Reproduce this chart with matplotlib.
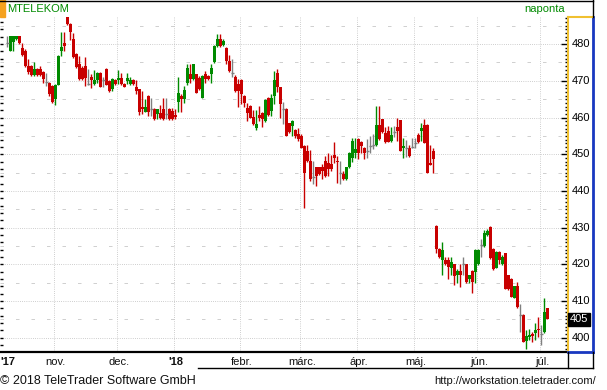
import matplotlib
matplotlib.use("Agg")
import matplotlib.pyplot as plt
from matplotlib.lines import Line2D
from matplotlib.patches import Rectangle

plt.rcParams['font.family'] = ['Liberation Sans', 'DejaVu Sans']

# ---- data (daily OHLC, Oct 2017 - Jul 2018) ----
opens = [480.3, 478.2, 480.5, 481.5, 482.3, 479.0, 478.2, 474.1, 474.0, 471.5,
         473.2, 473.2, 472.3, 469.6, 469.5, 468.5, 465.0, 469.0, 478.2, 480.3,
         487.3, 485.5, 481.4, 477.3, 474.5, 473.6, 474.1, 469.2, 471.0, 469.1,
         470.2, 472.1, 470.2, 473.2, 470.0, 467.8, 470.2, 470.2, 470.8, 469.1,
         470.0, 469.1, 470.2, 468.4, 467.7, 463.0, 461.6, 466.0, 462.2, 462.2,
         461.0, 461.2, 462.2, 461.0, 462.2, 461.8, 460.8, 464.3, 466.0, 465.0,
         469.5, 471.8, 470.4, 471.8, 470.9, 465.4, 471.8, 471.3, 471.8, 475.0,
         479.5, 481.4, 479.8, 479.0, 475.5, 472.1, 471.0, 469.2, 470.3, 466.0,
         462.5, 463.2, 460.2, 457.1, 460.6, 461.2, 459.0, 465.2, 461.8, 466.0,
         472.1, 468.2, 462.3, 462.3, 458.4, 457.6, 456.5, 455.4, 455.1, 452.3,
         450.8, 448.2, 443.8, 446.4, 446.4, 446.4, 448.2, 447.7, 447.3, 449.8,
         448.2, 445.0, 444.7, 443.3, 446.4, 449.1, 450.4, 454.1, 453.4, 451.8,
         451.0, 452.2, 452.6, 452.4, 458.1, 459.5, 455.9, 456.3, 453.6, 456.1,
         457.3, 459.2, 451.7, 451.7, 451.7, 452.0, 453.0, 455.2, 456.4, 458.1,
         458.0, 447.7, 451.0, 430.4, 424.3, 421.3, 421.3, 421.3, 419.1, 420.0,
         417.0, 418.2, 420.0, 420.0, 416.1, 418.2, 418.0, 420.0, 425.2, 425.0,
         427.9, 430.2, 424.3, 419.1, 423.4, 420.2, 423.0, 417.0, 416.1, 410.9,
         414.0, 406.2, 406.2, 399.2, 400.3, 400.9, 401.2, 402.5, 400.9, 401.6,
         408.0]
highs = [482.3, 482.3, 482.3, 482.3, 482.3, 480.3, 478.6, 476.0, 474.3, 475.0,
         473.5, 474.1, 472.6, 472.2, 469.8, 468.8, 469.2, 477.0, 483.2, 483.2,
         487.5, 485.8, 483.0, 477.6, 476.8, 474.0, 476.5, 473.2, 472.0, 473.0,
         472.3, 472.3, 471.0, 473.4, 470.3, 470.7, 470.5, 473.0, 472.1, 469.4,
         472.1, 471.0, 470.4, 470.2, 467.9, 467.2, 465.0, 466.2, 465.2, 462.5,
         462.4, 463.5, 465.2, 465.2, 462.5, 462.5, 462.2, 471.0, 466.3, 468.5,
         474.5, 474.5, 474.7, 472.0, 471.2, 471.5, 472.8, 471.6, 474.5, 479.8,
         482.7, 482.7, 481.5, 479.3, 477.0, 476.0, 471.6, 470.5, 470.5, 466.2,
         464.0, 463.5, 462.0, 462.0, 463.2, 461.4, 465.0, 465.5, 466.4, 472.8,
         473.3, 468.4, 464.3, 462.5, 458.6, 459.2, 456.8, 457.2, 455.4, 452.6,
         452.5, 451.1, 448.2, 446.6, 446.6, 447.3, 449.6, 450.2, 449.8, 453.3,
         449.6, 448.2, 445.5, 446.6, 450.5, 454.5, 454.5, 454.3, 453.6, 452.0,
         454.1, 455.0, 455.4, 463.1, 463.1, 459.7, 457.5, 457.7, 457.5, 457.8,
         460.0, 459.4, 454.5, 454.0, 452.5, 454.5, 454.5, 455.8, 458.4, 459.5,
         458.3, 452.5, 451.6, 430.6, 424.5, 426.0, 422.0, 422.0, 422.0, 420.2,
         418.8, 420.0, 422.0, 420.2, 417.2, 418.4, 424.2, 424.2, 427.0, 429.3,
         429.6, 430.4, 424.5, 423.6, 423.6, 422.5, 423.2, 417.2, 416.3, 414.2,
         415.2, 409.1, 406.4, 402.1, 402.5, 401.5, 403.9, 405.7, 403.5, 410.9,
         408.2]
lows = [479.2, 478.2, 478.2, 481.2, 480.0, 476.8, 473.8, 472.0, 471.2, 471.3,
        471.2, 471.2, 469.5, 468.5, 466.0, 464.0, 463.5, 468.8, 476.8, 478.2,
        485.3, 481.0, 476.2, 473.5, 470.2, 470.2, 468.5, 468.8, 468.0, 469.0,
        469.3, 468.2, 468.4, 468.8, 467.0, 467.2, 468.9, 469.1, 468.9, 468.2,
        469.1, 468.9, 468.9, 466.3, 460.8, 460.9, 461.4, 460.5, 460.4, 459.3,
        459.5, 459.6, 459.3, 459.5, 459.3, 459.3, 459.5, 461.5, 461.5, 464.0,
        469.0, 469.5, 470.2, 466.6, 467.5, 465.2, 469.3, 470.1, 469.5, 474.8,
        479.3, 479.3, 479.5, 474.5, 472.5, 471.0, 467.0, 463.0, 463.8, 463.0,
        459.0, 459.8, 458.0, 456.5, 459.0, 457.5, 458.8, 460.4, 460.3, 463.6,
        466.9, 460.0, 458.3, 454.9, 455.8, 455.0, 454.4, 453.6, 451.6, 435.4,
        447.9, 442.8, 442.0, 441.4, 444.3, 443.3, 443.9, 444.1, 445.5, 447.6,
        442.2, 441.8, 443.0, 443.1, 446.2, 448.0, 449.1, 448.7, 450.2, 448.7,
        449.1, 450.4, 451.3, 452.2, 453.9, 455.8, 453.1, 453.2, 453.2, 454.8,
        453.5, 450.8, 449.0, 449.2, 449.2, 451.8, 451.8, 453.1, 453.5, 453.0,
        444.8, 447.0, 445.0, 423.0, 421.8, 417.0, 419.8, 416.1, 417.0, 414.3,
        414.8, 413.8, 417.0, 415.0, 415.0, 412.2, 414.8, 419.8, 422.0, 424.8,
        427.7, 421.4, 418.4, 418.9, 420.0, 419.7, 413.2, 413.0, 411.0, 410.7,
        408.2, 401.6, 398.7, 396.8, 399.3, 398.8, 399.5, 400.3, 398.0, 401.4,
        405.0]
closes = [480.3, 482.3, 482.3, 482.3, 480.3, 477.0, 474.1, 472.3, 471.5, 473.2,
          471.5, 471.5, 470.5, 469.6, 466.5, 464.2, 469.0, 476.8, 479.1, 479.5,
          485.5, 483.2, 476.4, 473.7, 470.4, 470.4, 470.9, 469.2, 470.2, 470.2,
          472.1, 468.4, 470.2, 469.0, 467.3, 470.5, 469.1, 470.8, 469.1, 468.4,
          470.8, 470.2, 469.1, 467.2, 461.6, 462.2, 463.0, 461.6, 462.2, 459.5,
          462.2, 459.8, 459.5, 461.0, 459.5, 459.6, 460.2, 466.8, 465.0, 467.5,
          473.6, 470.4, 474.5, 466.8, 467.7, 471.3, 470.4, 470.4, 473.6, 479.6,
          481.4, 479.5, 480.8, 475.5, 472.8, 472.1, 467.3, 467.3, 466.4, 464.0,
          461.2, 460.0, 458.2, 458.2, 460.0, 459.5, 464.8, 460.6, 465.2, 470.3,
          468.2, 463.6, 462.3, 455.1, 456.0, 459.0, 455.1, 454.1, 451.8, 445.0,
          448.2, 443.3, 443.8, 444.1, 444.5, 445.5, 444.1, 445.9, 445.9, 449.1,
          447.9, 445.0, 443.2, 446.4, 450.3, 453.6, 451.3, 450.4, 452.3, 450.4,
          451.0, 452.2, 452.6, 458.1, 454.1, 456.0, 453.3, 453.4, 455.2, 456.1,
          456.2, 451.0, 452.3, 451.7, 449.6, 452.0, 453.0, 453.4, 457.2, 453.1,
          445.0, 447.2, 448.6, 424.3, 422.0, 424.0, 420.0, 419.3, 420.6, 416.8,
          418.2, 417.0, 420.0, 415.2, 417.0, 415.2, 424.0, 424.0, 425.2, 428.4,
          429.1, 421.6, 418.6, 423.4, 421.1, 422.0, 413.4, 413.4, 411.2, 414.0,
          408.4, 406.2, 398.9, 400.4, 400.7, 400.5, 402.1, 402.1, 400.9, 407.0,
          405.2]

month_labels = ["'17", "nov.", "dec.", "'18", "febr.", "márc.", "ápr.", "máj.", "jún.", "júl."]
month_starts = [0, 16, 37, 56, 78, 98, 117, 136, 157, 178]
price_ticks = [400, 410, 420, 430, 440, 450, 460, 470, 480]
half_ticks = [405, 415, 425, 435, 445, 455, 465, 475, 485]
title_text = "MTELEKOM"
period_text = "naponta"
last_label = "405"
footer_left = "© 2018 TeleTrader Software GmbH"
footer_right = "http://workstation.teletrader.com/"

GREEN = '#008a00'
RED = '#c80000'
GRAY = '#808080'

W, H = 607, 390
fig = plt.figure(figsize=(W / 100, H / 100), dpi=100)
fig.patch.set_facecolor('white')


def px_axes(x0, y0, x1, y1):
    return fig.add_axes([x0 / W, 1 - y1 / H, (x1 - x0) / W, (y1 - y0) / H])


def fig_line(xs, ys, **kw):
    fig.add_artist(Line2D([x / W for x in xs], [1 - y / H for y in ys],
                          transform=fig.transFigure, **kw))


ymin, ymax = 396.1, 487.4
ax = px_axes(0, 17, 568, 352)
ax.set_xlim(-7 / 3, 561 / 3)
ax.set_ylim(ymin, ymax)

# grid
DOT = (0, (0.72, 1.45))
for p in price_ticks:
    ax.axhline(p, color='#c0c0c0', lw=0.72, ls=DOT, zorder=0)
for p in half_ticks:
    ax.axhline(p, color='#d0d0d0', lw=0.72, ls=(0, (3.5, 12)), zorder=0)
for ms in month_starts[1:]:
    ax.axvline(ms - 0.5, color='#c0c0c0', lw=0.72, ls=DOT, zorder=0)

# candles
n = len(closes)
xs = list(range(n))
cols = []
for o, c in zip(opens, closes):
    if c > o:
        cols.append(GREEN)
    elif c < o:
        cols.append(RED)
    else:
        cols.append(GRAY)
ax.vlines(xs, lows, highs, colors=cols, lw=1, zorder=2)
bottoms = [min(o, c) for o, c in zip(opens, closes)]
heights = [abs(c - o) for o, c in zip(opens, closes)]
ax.bar(xs, heights, bottom=bottoms, width=1.0, color=cols, linewidth=0, zorder=3)
doji_x = [x for x, o, c in zip(xs, opens, closes) if o == c]
doji_y = [c for o, c in zip(opens, closes) if o == c]
ax.hlines(doji_y, [x - 0.5 for x in doji_x], [x + 0.5 for x in doji_x],
          colors=GRAY, lw=1, zorder=3)

for s in ['top', 'right', 'left']:
    ax.spines[s].set_visible(False)
ax.spines['bottom'].set_color('black')
ax.spines['bottom'].set_linewidth(1.6)

ax.set_yticks(list(range(398, 488, 2)))
ax.tick_params(axis='y', direction='in', length=2.5, width=1, color='black',
               left=True, labelleft=False)

pos = []
for k, ms in enumerate(month_starts):
    pos.append(ms + 0.3 if k == 0 else ms - 0.5 + 0.8)
ax.set_xticks(pos)
ax.set_xticklabels(month_labels, fontsize=8, color='#111111')
for k, t in enumerate(ax.get_xticklabels()):
    if month_labels[k].startswith("'"):
        t.set_fontweight('bold')
ax.tick_params(axis='x', length=0, pad=3.5)

# right price panel
pax = px_axes(568, 17, 593, 352)
pax.set_xlim(0, 1)
pax.set_ylim(ymin, ymax)
pax.set_xticks([])
pax.spines['left'].set_color('#f0c030')
pax.spines['top'].set_color('#f0c030')
pax.spines['left'].set_linewidth(1.5)
pax.spines['top'].set_linewidth(1.5)
pax.spines['right'].set_color('#1838c0')
pax.spines['bottom'].set_color('#1838c0')
pax.spines['right'].set_linewidth(2)
pax.spines['bottom'].set_linewidth(2)
pax.set_yticks(price_ticks)
pax.set_yticks(list(range(397, 488)), minor=True)
pax.tick_params(axis='y', which='major', direction='out', length=5, width=1,
                color='black', labelleft=False)
pax.tick_params(axis='y', which='minor', direction='out', length=2, width=1,
                color='black', labelleft=False)
for p in price_ticks:
    pax.text(0.17, p, str(p), fontsize=8, color='black', ha='left', va='center')
pax.text(0.06, 405.0, last_label, fontsize=8, color='white', ha='left',
         va='center', bbox=dict(boxstyle='square,pad=0.15', fc='black', ec='black'))

# frame lines and header
fig_line([0, 593], [0.5, 0.5], color='black', lw=1)
fig_line([593, 593], [0, 17], color='black', lw=1)
fig_line([568, 568], [352, 368], color='black', lw=1)
fig_line([593, 593], [352, 368], color='black', lw=1)
fig_line([198, 593], [368, 368], color='black', lw=1)
fig.add_artist(Rectangle((0, 1 - 17 / H), 5 / W, 17 / H, color='#f5a21e',
                         transform=fig.transFigure))
fig.text(7 / W, 1 - 9 / H, title_text, fontsize=8, color=GREEN, ha='left', va='center')
fig.text(565 / W, 1 - 9 / H, period_text, fontsize=8, color=GREEN, ha='right', va='center')
fig.text(0 / W, 1 - 381 / H, footer_left, fontsize=9, color='#111111', ha='left', va='center')
fig.text(596 / W, 1 - 381 / H, footer_right, fontsize=8, color='#111111', ha='right', va='center')

fig.savefig('out.png', dpi=100)
